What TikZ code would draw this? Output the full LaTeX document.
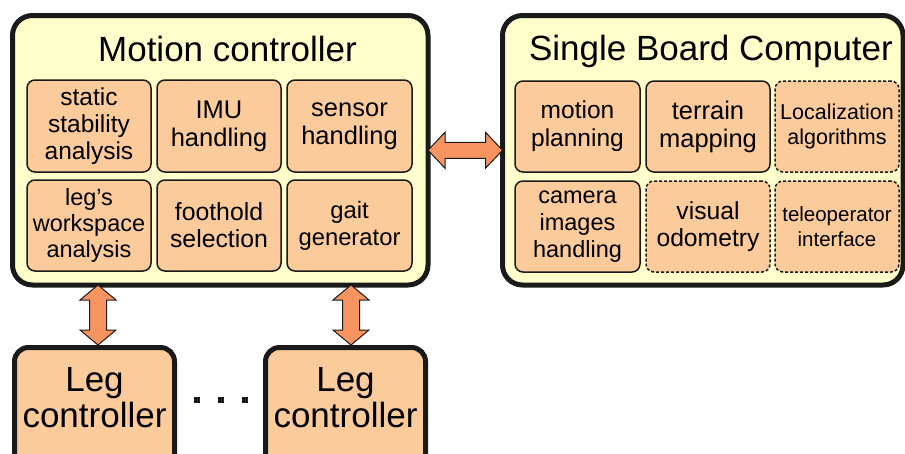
\documentclass[tikz,border=0pt]{standalone}
\usepackage{fontspec}
\setmainfont{Liberation Sans}
\usetikzlibrary{calc}
\definecolor{outerfill}{RGB}{255,255,204}
\definecolor{innerfill}{RGB}{251,203,155}
\definecolor{arrowfill}{RGB}{247,148,96}
\definecolor{edge}{RGB}{26,26,26}
\newcommand\hdblarrow[2]{%
  \draw[barrow] let \p1=(#1), \p2=(#2) in
    (\x1,\y1) -- (\x1+17pt,\y1+18pt) -- (\x1+17pt,\y1+8pt) -- (\x2-17pt,\y1+8pt)
    -- (\x2-17pt,\y1+18pt) -- (\x2,\y1) -- (\x2-17pt,\y1-18pt) -- (\x2-17pt,\y1-8pt)
    -- (\x1+17pt,\y1-8pt) -- (\x1+17pt,\y1-18pt) -- cycle;}
\newcommand\vdblarrow[2]{%
  \draw[barrow] let \p1=(#1), \p2=(#2) in
    (\x1,\y1) -- (\x1+18pt,\y1-15pt) -- (\x1+8.5pt,\y1-15pt) -- (\x1+8.5pt,\y2+15pt)
    -- (\x1+18pt,\y2+15pt) -- (\x1,\y2) -- (\x1-18pt,\y2+15pt) -- (\x1-8.5pt,\y2+15pt)
    -- (\x1-8.5pt,\y1-15pt) -- (\x1-18pt,\y1-15pt) -- cycle;}
\begin{document}
\begin{tikzpicture}[x=1pt,y=-1pt,
  outerbox/.style={draw=edge, line width=5pt, fill=outerfill, rounded corners=20pt,
    rectangle, inner sep=0pt, outer sep=0pt},
  legbox/.style={draw=edge, line width=5pt, fill=innerfill, rounded corners=14pt,
    rectangle, inner sep=0pt, outer sep=0pt, minimum width=160pt, minimum height=132.5pt},
  inbox/.style={draw=edge, line width=1.5pt, fill=innerfill, rounded corners=8pt,
    rectangle, inner sep=0pt, outer sep=0pt, align=center,
    minimum width=124pt, minimum height=91pt,
    font=\fontsize{24.5pt}{28pt}\selectfont},
  dashbox/.style={inbox, dash pattern=on 3pt off 2pt},
  sz/.style 2 args={font=\fontsize{#1}{#2}\selectfont},
  title/.style={anchor=base, font=\fontsize{35pt}{36pt}\selectfont},
  legtext/.style={align=center, font=\fontsize{35pt}{36pt}\selectfont},
  barrow/.style={draw=edge, line width=1pt, fill=arrowfill, line join=miter},
  dotmark/.style={fill=edge, rectangle, inner sep=0pt, minimum size=6pt}
]
\useasboundingbox (0,0) rectangle (905,453);

% outer boxes
\node[outerbox, minimum width=415.5pt, minimum height=269.5pt] (mc) at (220.25,150.25) {};
\node[outerbox, minimum width=400.5pt, minimum height=269.5pt] (sbc) at (702.75,150.25) {};
\node[title] (mct) at (227.5,61) {Motion controller};
\node[title] (sbct) at (711,60) {Single Board Computer};

% motion controller inner boxes
\node[inbox, minimum height=92pt, sz={24.5pt}{27pt}] (ssa) at (89,126) {static\\stability\\analysis};
\node[inbox, minimum height=92pt, sz={25.5pt}{28pt}] (imu) at (219,126) {IMU\\handling};
\node[inbox, minimum height=92pt, minimum width=125pt, sz={25.5pt}{28pt}] (sens) at (349.5,126) {sensor\\handling};
\node[inbox, sz={23.5pt}{26pt}] (lws) at (89,225.5) {leg's\\workspace\\analysis};
\node[inbox, sz={24.8pt}{27pt}] (foot) at (219,225.5) {foothold\\selection};
\node[inbox, minimum width=125pt, sz={23.8pt}{27pt}] (gait) at (349.5,225.5) {gait\\generator};

% single board computer inner boxes
\node[inbox, minimum width=125pt, sz={24.5pt}{28pt}] (mp) at (577.5,126.5) {motion\\planning};
\node[inbox, sz={25.5pt}{28pt}] (tm) at (708,126.5) {terrain\\mapping};
\node[dashbox, sz={21.5pt}{25pt}] (loc) at (837,126.5) {Localization\\algorithms};
\node[inbox, minimum width=125pt, sz={23.5pt}{27pt}] (cam) at (577.5,226.5) {camera\\images\\handling};
\node[dashbox, sz={24.7pt}{27pt}] (vo) at (708,226.5) {visual\\odometry};
\node[dashbox, sz={20.5pt}{25pt}] (tel) at (837,226.5) {teleoperator\\interface};

% leg controllers
\node[legbox] (leg1) at (94.5,413.75) {};
\node[legbox] (leg2) at (345.5,413.75) {};
\node[legtext] (leg1t) at (94.5,397.5) {Leg\\controller};
\node[legtext] (leg2t) at (345.5,397.5) {Leg\\controller};

% dots
\node[dotmark] (d1) at (197,399.5) {};
\node[dotmark] (d2) at (220.5,399.5) {};
\node[dotmark] (d3) at (244.5,399.5) {};

% connectors
\coordinate (a1top) at (98,285);
\coordinate (a1bot) at (98,345);
\coordinate (a2top) at (351,285);
\coordinate (a2bot) at (351,345);
\hdblarrow{mc.east}{sbc.west}
\vdblarrow{a1top}{a1bot}
\vdblarrow{a2top}{a2bot}
\end{tikzpicture}
\end{document}
